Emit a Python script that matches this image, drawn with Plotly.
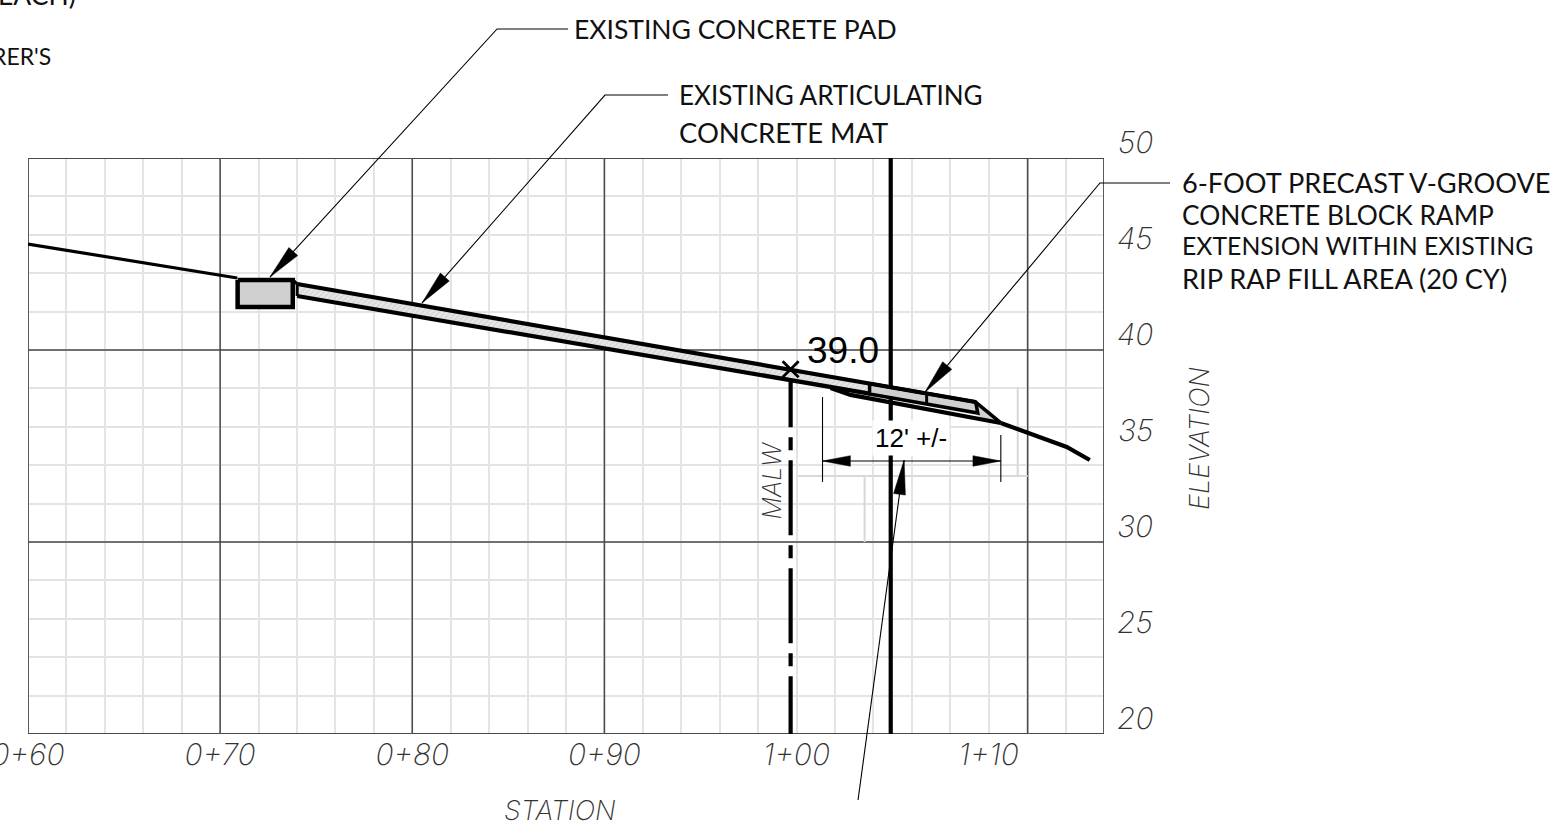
import math
import plotly.graph_objects as go

# ---- axis content ----
STATION_TICKS = [60, 70, 80, 90, 100, 110]
STATION_LABELS = ["0+60", "0+70", "0+80", "0+90", "1+00", "1+10"]
ELEV_TICKS = [50, 45, 40, 35, 30, 25, 20]
MAJOR_STATIONS = [70, 80, 90, 112.03]
MAJOR_ELEVS = [30, 40]

# ---- profile geometry (station, elevation) ----
GROUND_L_X = [60, 70.89]
GROUND_L_Y = [45.52, 43.75]
GROUND_R_X = [110.63, 114.06, 115.26]
GROUND_R_Y = [36.20, 34.95, 34.27]
PAD_X = [70.91, 73.78, 73.78, 70.91, 70.91]
PAD_Y = [43.65, 43.65, 42.24, 42.24, 43.65]
PAD_LINK_X = [73.78, 74.01]
PAD_LINK_Y = [43.65, 43.44]
MAT_X = [74.01, 103.80, 103.80, 74.01, 74.01]
MAT_Y = [43.44, 38.26, 37.73, 42.81, 43.44]
MAT_TOP_X = [74.01, 109.32]
MAT_TOP_Y = [43.44, 37.29]
MAT_BOT_X = [74.01, 103.80]
MAT_BOT_Y = [42.81, 37.73]
BLOCK_X = [103.80, 109.32, 109.43, 103.80, 103.80]
BLOCK_Y = [38.26, 37.29, 36.72, 37.71, 38.26]
BLOCK_DIV_X = [106.77, 106.77]
BLOCK_DIV_Y = [37.74, 37.19]
TOE_X = [109.32, 110.63, 109.43, 109.32]
TOE_Y = [37.29, 36.20, 36.56, 37.29]
GRADE_X = [101.77, 102.81, 110.63]
GRADE_Y = [38.02, 37.66, 36.20]
MALW_X = [99.69, 99.69]
MALW_Y = [39.0, 20]
CENTER_X = [104.90, 104.90]
CENTER_Y = [50, 20]
LIGHT_SEGMENTS = [
    ([100.05, 112.03], [33.44, 33.44]),
    ([103.54, 103.54], [33.44, 30]),
    ([111.51, 111.51], [38.07, 33.44]),
]

# ---- dimension ----
DIM_X = [101.35, 110.63]
DIM_Y = [34.22, 34.22]
DIM_TICK_L_X = [101.35, 101.35]
DIM_TICK_L_Y = [37.55, 33.125]
DIM_TICK_R_X = [110.63, 110.63]
DIM_TICK_R_Y = [35.57, 33.125]

# ---- leaders: last point is the arrow tip ----
LEADERS = [
    ([88.13, 84.43, 72.60], [56.72, 56.72, 43.80]),
    ([93.33, 90.05, 80.52], [53.28, 53.28, 42.45]),
    ([119.48, 115.83, 106.72], [48.70, 48.70, 37.81]),
    ([103.23, 105.63], [16.56, 34.27]),
]

# ---- callout text and where each line sits (station, elevation) ----
CALLOUT_TEXTS = [
    "EACH)", "RER'S", "EXISTING CONCRETE PAD", "EXISTING ARTICULATING", "CONCRETE MAT",
    "6-FOOT PRECAST V-GROOVE", "CONCRETE BLOCK RAMP", "EXTENSION WITHIN EXISTING",
    "RIP RAP FILL AREA (20 CY)",
]
CALLOUT_X = [62.60, 61.30, 88.35, 93.80, 93.80, 120.00, 120.00, 120.00, 120.00]
CALLOUT_Y = [58.20, 55.31, 56.72, 53.28, 51.35, 48.70, 47.03, 45.42, 43.75]

# ---- styles ----
CALLOUT_SIZES = [26.5, 23, 26.5, 26, 27.4, 27.2, 26.3, 24.8, 27.2]
CALLOUT_ANCHORS = ["right", "right", "left", "left", "left", "left", "left", "left", "left"]
CALLOUT_YSHIFTS = [6, 0, 0, 0, 0, 0, 0, 0, 0]
INK = "#000000"
GRID_MINOR = "#e4e4e4"
GRID_MAJOR = "#4a4a4a"
FILL = "#d0d0d0"
LABEL_FONT = "Lato"
NUM_FONT = "Liberation Sans"
THIN_ITALIC = dict(family="Inter", size=30, color="#333333", style="italic", weight=200)

fig = go.Figure()


def line(xs, ys, width=4.2, color=INK, dash=None, page=False):
    fig.add_trace(go.Scatter(x=xs, y=ys, mode="lines", hoverinfo="skip", showlegend=False,
                             xaxis="x2" if page else "x", yaxis="y2" if page else "y",
                             line=dict(color=color, width=width, dash=dash)))


def poly(xs, ys, fill=FILL, edge=0, edge_color=INK, page=False, pattern=None):
    fig.add_trace(go.Scatter(x=xs, y=ys, mode="lines", fill="toself", fillcolor=fill, hoverinfo="skip",
                             showlegend=False, fillpattern=pattern,
                             xaxis="x2" if page else "x", yaxis="y2" if page else "y",
                             line=dict(color=edge_color, width=edge)))


def arrow(tip_x, tip_y, from_x, from_y, length=1.8, width=0.62, page=False):
    """Arrowhead wedge, pointing at the tip, along the line coming from (from_x, from_y)."""
    dx, dy = tip_x - from_x, tip_y - from_y
    n = math.hypot(dx, dy)
    ux, uy = dx / n, dy / n
    bx, by = tip_x - ux * length, tip_y - uy * length
    px, py = -uy * width / 2, ux * width / 2
    poly([tip_x, bx + px, bx - px, tip_x], [tip_y, by + py, by - py, tip_y], fill=INK, edge=0.5, page=page)


# light ghost lines left in the drawing
for xs, ys in LIGHT_SEGMENTS:
    line(xs, ys, width=2, color="#d8d8d8")

# centre line and low water line
line(CENTER_X, CENTER_Y, width=4.2)
line(MALW_X, MALW_Y, width=4.2,
     dash="58px,10px,13px,10px,75px,10px,13px,10px,75px,10px,13px,10px,75px,10px")

# ramp profile
poly(MAT_X, MAT_Y, fill="#e2e2e2", pattern=dict(shape="/", size=4, solidity=0.3, fgcolor="#bdbdbd", bgcolor="#e6e6e6"))
poly(BLOCK_X, BLOCK_Y, fill=FILL)
poly(TOE_X, TOE_Y, fill=FILL)
line(GROUND_L_X, GROUND_L_Y, width=3.2)
line(GROUND_R_X, GROUND_R_Y)
line(MAT_TOP_X, MAT_TOP_Y)
line(MAT_BOT_X, MAT_BOT_Y)
line([MAT_TOP_X[0], MAT_BOT_X[0]], [MAT_TOP_Y[0], MAT_BOT_Y[0]], width=3)
line(GRADE_X, GRADE_Y)
line(BLOCK_X, BLOCK_Y, width=3.5)
line(TOE_X[:2], TOE_Y[:2], width=3.5)
line(BLOCK_DIV_X, BLOCK_DIV_Y, width=3)
poly(PAD_X, PAD_Y, fill=FILL, edge=4.5)
line(PAD_LINK_X, PAD_LINK_Y, width=3)

# design point marker
fig.add_trace(go.Scatter(x=[MALW_X[0]], y=[MALW_Y[0]], mode="markers", cliponaxis=False, hoverinfo="skip",
                         showlegend=False,
                         marker=dict(symbol="x-thin", size=16, line=dict(color=INK, width=2.8))))

# dimension
line(DIM_X, DIM_Y, width=1.1)
line(DIM_TICK_L_X, DIM_TICK_L_Y, width=1.1)
line(DIM_TICK_R_X, DIM_TICK_R_Y, width=1.1)
arrow(DIM_X[0], DIM_Y[0], DIM_X[1], DIM_Y[1], length=1.45, width=0.55)
arrow(DIM_X[1], DIM_Y[1], DIM_X[0], DIM_Y[0], length=1.45, width=0.55)

# leaders with arrowheads: these run past the grid, so they live on the full-page axes
for xs, ys in LEADERS:
    line(xs, ys, width=1.1, page=True)
    arrow(xs[-1], ys[-1], xs[-2], ys[-2], page=True)

# major grid
shapes = []
for s in MAJOR_STATIONS:
    shapes.append(dict(type="line", xref="x", yref="y", x0=s, x1=s, y0=20, y1=50, layer="between",
                       line=dict(color=GRID_MAJOR, width=1.5)))
for e in MAJOR_ELEVS:
    shapes.append(dict(type="line", xref="x", yref="y", x0=60, x1=116, y0=e, y1=e, layer="between",
                       line=dict(color=GRID_MAJOR, width=1.5)))
shapes.append(dict(type="rect", xref="x", yref="y", x0=60, x1=116, y0=20, y1=50, layer="between",
                   line=dict(color=GRID_MAJOR, width=1.8)))

annotations = []
for text, x, y, anchor, size, shift in zip(CALLOUT_TEXTS, CALLOUT_X, CALLOUT_Y, CALLOUT_ANCHORS,
                                           CALLOUT_SIZES, CALLOUT_YSHIFTS):
    annotations.append(dict(text=text, x=x, y=y, xref="x2", yref="y2", xanchor=anchor, yanchor="middle",
                            yshift=shift, showarrow=False,
                            font=dict(family=LABEL_FONT, size=size, color="#111111")))
for e in ELEV_TICKS:
    annotations.append(dict(text=str(e), x=117.66, y=e, xref="x2", yref="y2", xanchor="center",
                            yanchor="middle", yshift=16, showarrow=False, font=THIN_ITALIC))
annotations += [
    dict(text="39.0", x=100.45, y=40.0, xref="x2", yref="y2", xanchor="left", yanchor="middle",
         showarrow=False, font=dict(family=NUM_FONT, size=37, color=INK)),
    dict(text="12' +/-", x=106.0, y=35.42, xref="x2", yref="y2", xanchor="center", yanchor="middle",
         showarrow=False, bgcolor="#ffffff", borderpad=2, font=dict(family=NUM_FONT, size=26, color=INK)),
    dict(text="STATION", x=87.71, y=15.99, xref="x2", yref="y2", xanchor="center", yanchor="middle",
         showarrow=False, font=THIN_ITALIC | dict(size=27)),
    dict(text="ELEVATION", x=121.04, y=35.42, xref="x2", yref="y2", xanchor="center", yanchor="middle",
         textangle=-90, showarrow=False, font=THIN_ITALIC | dict(size=27)),
    dict(text="MALW", x=98.75, y=33.2, xref="x2", yref="y2", xanchor="center", yanchor="middle",
         textangle=-90, showarrow=False, font=THIN_ITALIC | dict(size=25)),
]

fig.update_layout(
    width=1555, height=830, autosize=False,
    margin=dict(l=0, r=0, t=0, b=0),
    paper_bgcolor="#ffffff", plot_bgcolor="rgba(0,0,0,0)",
    showlegend=False, hovermode=False,
    shapes=shapes, annotations=annotations,
    xaxis=dict(domain=[28 / 1555, 1104 / 1555], range=[60, 116], tickmode="array", tickvals=STATION_TICKS,
               ticktext=STATION_LABELS, showgrid=False, zeroline=False, showline=False, ticks="",
               automargin=False, ticklabelstandoff=0, ticklabeloverflow="allow", tickfont=THIN_ITALIC,
               minor=dict(tick0=60, dtick=2, showgrid=True, gridcolor=GRID_MINOR, gridwidth=2, ticks="")),
    yaxis=dict(domain=[96 / 830, 672 / 830], range=[20, 50], showticklabels=False, showgrid=False,
               automargin=False, zeroline=False, showline=False, ticks="", tickmode="array", tickvals=ELEV_TICKS,
               minor=dict(tick0=20, dtick=2, showgrid=True, gridcolor=GRID_MINOR, gridwidth=2, ticks="")),
    xaxis2=dict(domain=[0, 1], range=[58.54, 139.53], anchor="y2", visible=False, automargin=False),
    yaxis2=dict(domain=[0, 1], range=[15.0, 58.23], anchor="x2", visible=False, automargin=False),
)

fig.write_html("out.html", config={"displayModeBar": False, "responsive": False},
               post_script="document.body.style.margin='0';document.body.style.overflow='hidden';")
